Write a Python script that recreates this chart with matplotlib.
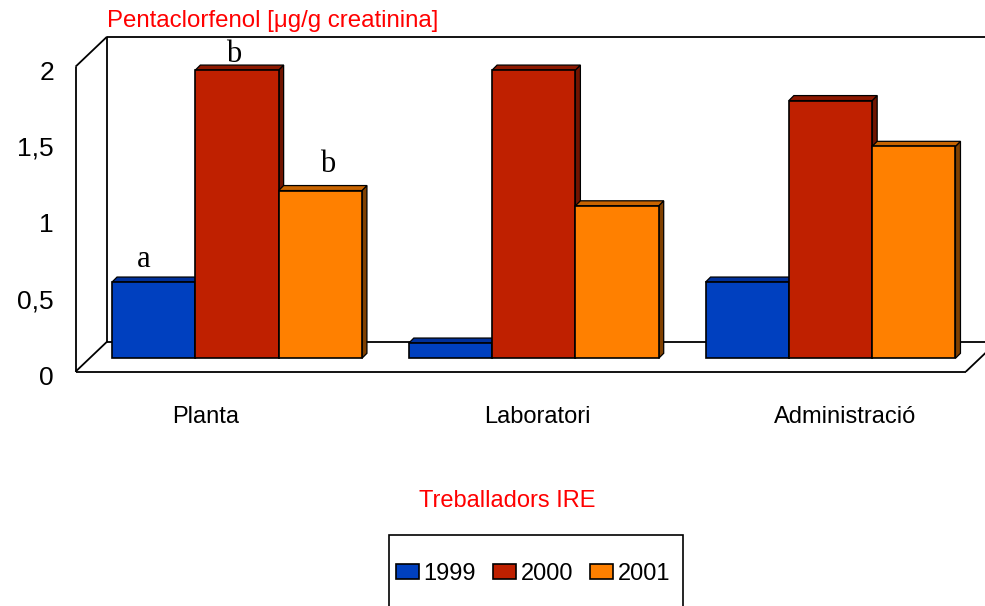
import matplotlib
matplotlib.use('Agg')
import matplotlib.pyplot as plt
from matplotlib.patches import Patch, Polygon, Rectangle
import numpy as np

## data
categories = ["Planta", "Laboratori", "Administració"]
years = ["1999", "2000", "2001"]
vals_1999 = [0.50, 0.10, 0.50]
vals_2000 = [1.89, 1.89, 1.69]
vals_2001 = [1.10, 1.00, 1.39]
yticks = [0, 0.5, 1, 1.5, 2]
ytick_labels = ["0", "0,5", "1", "1,5", "2"]
# letters above the Planta bars (significance groups)
letters = ["a", "b", "b"]
letter_x = [-0.313, -0.010, 0.307]
letter_y = [0.60, 1.94, 1.22]
cat_x = [-0.105, 1.013, 2.049]

front_col = ["#0040BF", "#BF2000", "#FF8000"]
top_col = ["#00309A", "#8C1800", "#C86400"]
side_col = ["#002A80", "#701400", "#804000"]

plt.rcParams['font.family'] = ['Liberation Sans', 'DejaVu Sans']

fig = plt.figure(figsize=(9.85, 6.06), dpi=100)
W, H = 985.0, 606.0
# axes = plane where the bars stand (middle of the 3d box)
ax = fig.add_axes([88.6 / W, (H - 358.3) / H, 890.3 / W, 305.0 / H])
ax.set_xlim(-0.5, 2.5)
ax.set_ylim(0, 2)
ax.set_axis_off()

ppx = 890.3 / 3.0    # pixels per category unit
ppy = 305.0 / 2.0    # pixels per value unit

# depth offsets of front / back planes (pixels)
fdx, fdy = -13.1 / ppx, -13.4 / ppy
bdx, bdy = 18.4 / ppx, 16.6 / ppy

lk = dict(color="black", lw=1.3, clip_on=False, zorder=1, solid_capstyle="butt")
x0, x1 = ax.get_xlim()
y0, y1 = ax.get_ylim()
# back wall
ax.plot([x0 + bdx, x0 + bdx], [y0 + bdy, y1 + bdy], **lk)
ax.plot([x0 + bdx, x1 + bdx], [y1 + bdy, y1 + bdy], **lk)
ax.plot([x0 + bdx, x1 + bdx], [y0 + bdy, y0 + bdy], **lk)
# left wall
ax.plot([x0 + fdx, x0 + fdx], [y0 + fdy, y1 + fdy], **lk)
ax.plot([x0 + fdx, x0 + bdx], [y1 + fdy, y1 + bdy], **lk)
ax.plot([x0 + fdx, x0 + bdx], [y0 + fdy, y0 + bdy], **lk)
# floor
ax.plot([x0 + fdx, x1 + fdx], [y0 + fdy, y0 + fdy], **lk)
ax.plot([x1 + fdx, x1 + bdx], [y0 + fdy, y0 + bdy], **lk)

# bars with a small 3d extrusion
w = 83.3 / ppx
ex, ey = 5.0 / ppx, 5.0 / ppy
xs = np.arange(len(categories))
series = [vals_1999, vals_2000, vals_2001]
for i, vals in enumerate(series):
    pos = xs + (i - 1) * w
    ax.bar(pos, vals, width=w, color=front_col[i], edgecolor="black",
           linewidth=1.2, zorder=3 + i + 0.5, clip_on=False)
    for p, v in zip(pos, vals):
        l, r = p - w / 2, p + w / 2
        side = Polygon([(r, 0), (r, v), (r + ex, v + ey), (r + ex, ey)],
                       closed=True, facecolor=side_col[i], edgecolor="black",
                       linewidth=0.9, zorder=3 + i, clip_on=False)
        top = Polygon([(l, v), (r, v), (r + ex, v + ey), (l + ex, v + ey)],
                      closed=True, facecolor=top_col[i], edgecolor="black",
                      linewidth=0.9, zorder=3 + i, clip_on=False)
        ax.add_patch(side)
        ax.add_patch(top)

# letters above Planta bars
for lx, ly, t in zip(letter_x, letter_y, letters):
    ax.text(lx, ly, t, family=['Liberation Serif'], fontsize=22,
            ha="center", va="baseline", zorder=10, clip_on=False)

# y tick labels, on the front plane
for v, s in zip(yticks, ytick_labels):
    ax.text(x0 + fdx - 21.5 / ppx, v + fdy - 6 / ppy, s, fontsize=19,
            ha="right", va="center", clip_on=False)

# category labels
for cx, c in zip(cat_x, categories):
    ax.text(cx, -0.385, c, fontsize=17, ha="center", va="center", clip_on=False)

fig.text(107 / W, 1 - 21 / H, "Pentaclorfenol [\u03bcg/g creatinina]",
         color="red", fontsize=17.3, ha="left", va="center")
fig.text(507 / W, 1 - 501 / H, "Treballadors IRE", color="red", fontsize=17,
         ha="center", va="center")

# legend box (runs off the bottom edge like in the original)
fig.patches.append(Rectangle((389 / W, 1 - 612 / H), 294 / W, 77 / H,
                             transform=fig.transFigure, facecolor="white",
                             edgecolor="black", linewidth=1.2, zorder=0))
handles = [Patch(facecolor=front_col[i], edgecolor="black", linewidth=1.2)
           for i in range(3)]
leg = fig.legend(handles, years, ncol=3, loc="center left",
                 bbox_to_anchor=(396 / W, 1 - 574 / H), frameon=False,
                 fontsize=17, handlelength=0.97, handleheight=0.6,
                 handletextpad=0.2, columnspacing=0.72, borderpad=0,
                 borderaxespad=0)

fig.savefig("out.png", dpi=100)
